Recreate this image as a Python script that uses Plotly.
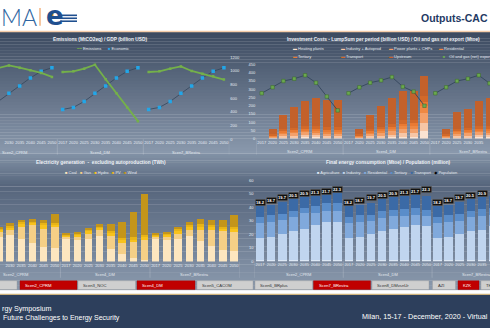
import plotly.graph_objects as go

W, H = 490, 330
FONT = "Liberation Sans, Arial, DejaVu Sans, sans-serif"
LIGHT = "#e6ecf3"

years = ["2017", "2020", "2025", "2030", "2035", "2040", "2045", "2050"]
scenarios = ["Scen2_CPRM", "Scen4_DM", "Scen7_BRestra"]

# ---- Emissions (MtCO2eq) / GDP (billion USD)
emis_cprm = [983, 993, 1040, 1079, 1046, 1007, 969, 911]
emis_dm = [983, 993, 1031, 1089, 878, 671, 465, 264]
emis_brestra = [983, 993, 1031, 1065, 998, 959, 921, 873]
gdp_cprm = [436, 465, 552, 671, 777, 897, 993, 1046]
gdp_dm = [436, 465, 552, 671, 777, 897, 993, 1046]
gdp_brestra = [436, 465, 552, 671, 777, 897, 993, 1046]

# ---- Investment costs (billion USD), 3 scenarios concatenated
inv_heating = [0, 2, 4, 6, 8, 8, 6, 6, 0, 2, 4, 6, 8, 10, 10, 45, 0, 2, 4, 6, 8, 8, 6, 6]
inv_industry = [0, 4, 10, 12, 14, 12, 10, 10, 0, 4, 10, 12, 16, 22, 22, 50, 0, 4, 10, 12, 14, 12, 10, 10]
inv_power = [0, 6, 12, 14, 16, 14, 14, 14, 0, 6, 12, 16, 20, 24, 24, 60, 0, 6, 14, 14, 16, 14, 14, 14]
inv_resid = [0, 4, 10, 10, 12, 12, 12, 12, 0, 4, 10, 12, 16, 20, 22, 40, 0, 4, 10, 10, 12, 12, 12, 12]
inv_tertiary = [0, 3, 8, 8, 10, 10, 10, 10, 0, 3, 8, 10, 12, 15, 15, 25, 0, 3, 8, 8, 10, 10, 10, 10]
inv_transport = [0, 6, 14, 16, 18, 20, 20, 20, 0, 6, 14, 16, 18, 20, 20, 40, 0, 6, 15, 16, 18, 20, 20, 20]
inv_upstream = [0, 35, 87, 125, 147, 169, 163, 163, 0, 35, 87, 125, 155, 180, 178, 122, 0, 35, 98, 115, 147, 173, 168, 168]
oil_gas_export = [275, 311, 349, 363, 384, 339, 255, 171, 275, 311, 339, 353, 373, 315, 285, 199,
                  275, 311, 349, 363, 384, 335, 260, 180]

# ---- Electricity generation (TWh)
el_coal = [83, 77, 89, 96, 84, 68, 53, 48, 83, 77, 84, 92, 44, 26, 14, 6, 83, 77, 84, 92, 74, 56, 42, 38]
el_gas = [6, 12, 18, 20, 44, 64, 66, 77, 6, 12, 18, 22, 50, 42, 56, 71, 6, 12, 18, 24, 42, 58, 68, 70]
el_hydro = [5, 8, 8, 9, 10, 9, 13, 10, 5, 8, 9, 9, 11, 11, 11, 12, 5, 8, 10, 11, 12, 12, 11, 11]
el_pv = [2, 4, 4, 5, 6, 5, 9, 6, 2, 4, 5, 5, 7, 7, 7, 7, 2, 4, 7, 7, 8, 8, 7, 7]
el_wind = [6, 7, 6, 10, 8, 8, 12, 34, 6, 7, 6, 10, 25, 60, 94, 150, 6, 7, 6, 10, 18, 18, 22, 44]

# ---- Final energy consumption (Mtoe) / Population (million)
fe_agri = [0.7, 0.7, 0.7, 0.8, 0.8, 0.8, 0.8, 0.8] * 3
fe_industry = [16.8, 17.5, 19.2, 22.0, 23.2, 25.9, 28.1, 28.3,
               16.8, 17.5, 19.2, 22.0, 23.2, 24.4, 25.9, 25.2,
               16.8, 17.5, 19.2, 22.0, 22.7, 25.2, 26.0, 26.5]
fe_resid = [10.9, 10.7, 10.4, 10.0, 11.7, 9.0, 8.0, 7.8,
            10.9, 10.7, 9.7, 9.2, 9.3, 8.5, 7.8, 7.7,
            10.9, 10.7, 10.2, 10.0, 9.8, 8.5, 8.0, 7.8]
fe_tertiary = [4.4, 5.6, 4.9, 4.1, 3.6, 5.3, 6.1, 6.5,
               4.4, 5.6, 4.9, 4.9, 4.8, 4.9, 4.8, 4.4,
               4.4, 5.6, 5.1, 4.1, 5.3, 5.0, 5.0, 5.2]
fe_transport = [8.2, 7.2, 9.0, 10.4, 9.0, 7.8, 7.2, 7.6,
                8.2, 7.2, 8.9, 9.7, 9.7, 9.9, 9.7, 9.9,
                8.2, 7.2, 9.0, 9.7, 9.2, 9.0, 9.2, 9.2]
population = [18.2, 18.7, 19.7, 20.5, 20.9, 21.3, 21.7, 22.3] * 3

button_labels = ["", "Scen2_CPRM", "Scen3_NOC", "Scen4_DM", "Scen5_CACOM", "Scen6_BRplus",
                 "Scen7_BRestra", "Scen8_DMvsnUr", "AZI", "KZK", "TK"]
button_active = [False, True, False, True, False, False, True, False, False, True, False]

# ---------------------------------------------------------------------------
K = list(range(24))
ticktext = years * 3


def px(x):
    return x / W


def py(y):
    return 1 - y / H


def broken(groups):
    xs, ys = [], []
    for g, vals in enumerate(groups):
        for i, v in enumerate(vals):
            xs.append(8 * g + i)
            ys.append(v)
        xs.append(None)
        ys.append(None)
    return xs, ys


fig = go.Figure()

# Top-left lines
ex, ey = broken([emis_cprm, emis_dm, emis_brestra])
gx, gy = broken([gdp_cprm, gdp_dm, gdp_brestra])
fig.add_trace(go.Scatter(x=gx, y=gy, mode="lines+markers", name="Economic",
                         line=dict(color="#34465c", width=0.8),
                         marker=dict(symbol="square", size=3.5, color="#22a6e8"),
                         xaxis="x", yaxis="y"))
fig.add_trace(go.Scatter(x=ex, y=ey, mode="lines+markers", name="Emissions",
                         line=dict(color="#74b04a", width=1.8),
                         marker=dict(symbol="square", size=2.5, color="#74b04a"),
                         xaxis="x", yaxis="y"))

# Top-right bars
inv_series = [("Heating plants", inv_heating, "#fbe3d2"),
              ("Industry + Autoprod", inv_industry, "#f7c6a6"),
              ("Power plants + CHPs", inv_power, "#f3a06a"),
              ("Residential", inv_resid, "#ee8843"),
              ("Tertiary", inv_tertiary, "#e97a33"),
              ("Transport", inv_transport, "#d2692a"),
              ("Upstream", inv_upstream, "#c3612b")]
for name, vals, col in inv_series:
    fig.add_trace(go.Bar(x=K, y=vals, name=name, marker=dict(color=col, line_width=0),
                         width=0.74, xaxis="x2", yaxis="y2"))
ox, oy = broken([oil_gas_export[0:8], oil_gas_export[8:16], oil_gas_export[16:24]])
fig.add_trace(go.Scatter(x=ox, y=oy, mode="lines+markers", name="Oil and gas (net) export",
                         line=dict(color="#34465c", width=0.9),
                         marker=dict(symbol="square", size=3.5, color="#6aa84f",
                                     line=dict(color="#3d6b2a", width=0.5)),
                         xaxis="x2", yaxis="y2"))

# Bottom-left bars
el_series = [("Coal", el_coal, "#fde6bf"), ("Gas", el_gas, "#f5cf86"),
             ("Hydro", el_hydro, "#f8c21c"), ("PV", el_pv, "#e8b416"),
             ("Wind", el_wind, "#c4951a")]
for name, vals, col in el_series:
    fig.add_trace(go.Bar(x=K, y=vals, name=name, marker=dict(color=col, line_width=0),
                         width=0.66, xaxis="x3", yaxis="y3"))

# Bottom-right bars
fe_series = [("Agriculture", fe_agri, "#dde8f5"), ("Industry", fe_industry, "#c0d5ef"),
             ("Residential", fe_resid, "#80a9dc"), ("Tertiary", fe_tertiary, "#5a8dca"),
             ("Transport", fe_transport, "#3b6aa6")]
for name, vals, col in fe_series:
    fig.add_trace(go.Bar(x=K, y=vals, name=name, marker=dict(color=col, line_width=0),
                         width=0.78, xaxis="x4", yaxis="y4"))
fig.add_trace(go.Scatter(x=K, y=population, mode="markers", name="Population",
                         marker=dict(symbol="square", size=3, color="black"),
                         xaxis="x4", yaxis="y5"))

# ---------------------------------------------------------------------------
shapes = []
annotations = []


def hex2rgb(h):
    h = h.lstrip("#")
    return tuple(int(h[i:i + 2], 16) for i in (0, 2, 4))


def grad(y0, y1, c0, c1, n=40, x0=0, x1=W):
    r0, r1 = hex2rgb(c0), hex2rgb(c1)
    for j in range(n):
        t = (j + 0.5) / n
        c = tuple(round(a + (b - a) * t) for a, b in zip(r0, r1))
        ya = y0 + (y1 - y0) * j / n
        yb = min(y1, y0 + (y1 - y0) * (j + 1) / n + 0.4)
        shapes.append(dict(type="rect", xref="paper", yref="paper", x0=px(x0), x1=px(x1),
                           y0=py(yb), y1=py(ya), fillcolor="rgb(%d,%d,%d)" % c,
                           line_width=0, layer="below"))


# panel backgrounds
grad(29.5, 153, "#3c4a60", "#8a99ad")
grad(153, 186, "#8292a6", "#56657c", n=15)
grad(186, 292, "#56657c", "#8a99ad")

# header
shapes.append(dict(type="rect", xref="paper", yref="paper", x0=0, x1=1, y0=py(29.6), y1=py(28.2),
                   fillcolor="#f6cdaa", line_width=0, layer="below"))
# footer
shapes.append(dict(type="rect", xref="paper", yref="paper", x0=0, x1=1, y0=py(295.4), y1=py(291.6),
                   fillcolor="#ffffff", line_width=0, layer="below"))
shapes.append(dict(type="rect", xref="paper", yref="paper", x0=0, x1=1, y0=py(296.8), y1=py(295.2),
                   fillcolor="#cdb27c", line_width=0, layer="below"))
shapes.append(dict(type="rect", xref="paper", yref="paper", x0=0, x1=1, y0=0, y1=py(296.6),
                   fillcolor="#2d3f5c", line_width=0, layer="below"))

# logo
annotations.append(dict(text="MA", x=px(-1.5), y=py(14.5), xref="paper", yref="paper", xanchor="left",
                        yanchor="middle", showarrow=False,
                        font=dict(family="Lato, DejaVu Sans", size=23, color="#2d64a0", weight=300)))
shapes.append(dict(type="line", xref="paper", yref="paper", x0=px(40), x1=px(40), y0=py(23), y1=py(5),
                   line=dict(color="#f0a060", width=1.2)))
annotations.append(dict(text="<b>e</b>", x=px(44), y=py(13.5), xref="paper", yref="paper",
                        xanchor="left", yanchor="middle", showarrow=False,
                        font=dict(family="DejaVu Sans", size=26, color="#1f4f8f")))
for yy in (12.5, 15.5, 18.5):
    shapes.append(dict(type="line", xref="paper", yref="paper", x0=px(60), x1=px(77), y0=py(yy), y1=py(yy),
                       line=dict(color="#1f4f8f", width=1.6)))
shapes.append(dict(type="rect", xref="paper", yref="paper", x0=px(50), x1=px(53.5), y0=py(15), y1=py(9.5),
                   fillcolor="#f08a3c", line_width=0))
annotations.append(dict(text="<b>Outputs-CAC</b>", x=px(489.5), y=py(15), xref="paper", yref="paper",
                        xanchor="right", yanchor="middle", showarrow=False,
                        font=dict(family="Liberation Sans, Arial", size=10.5, color="#1f3a64")))

# footer text
annotations.append(dict(text="rgy Symposium", x=px(0), y=py(310), xref="paper", yref="paper",
                        xanchor="left", yanchor="middle", showarrow=False,
                        font=dict(family="Liberation Sans, Arial", size=7.2, color="white")))
annotations.append(dict(text="Future Challenges to Energy Security", x=px(0.5), y=py(319.5), xref="paper",
                        yref="paper", xanchor="left", yanchor="middle", showarrow=False,
                        font=dict(family="Liberation Sans, Arial", size=7.0, color="white")))
annotations.append(dict(text="Milan, 15-17 - December, 2020 - Virtual", x=px(489.5), y=py(318.5), xref="paper",
                        yref="paper", xanchor="right", yanchor="middle", showarrow=False,
                        font=dict(family="Liberation Sans, Arial", size=7.2, color="white")))

# buttons
btn_geom = [(-41, 17), (20, 77), (78, 135.5), (137, 195), (197, 253), (255, 312.5), (313.5, 370.5),
            (372, 429), (432.5, 455.5), (458, 479), (481, 510)]
for (x0, x1), lab, act in zip(btn_geom, button_labels, button_active):
    shapes.append(dict(type="rect", xref="paper", yref="paper", x0=px(x0), x1=px(x1), y0=py(291), y1=py(282),
                       fillcolor="#c00000" if act else "#cfcfcf",
                       line=dict(color="#9a9a9a" if not act else "#a00000", width=0.4)))
    if lab:
        annotations.append(dict(text=lab, x=px(x0 + 3), y=py(286.5), xref="paper", yref="paper",
                                xanchor="left", yanchor="middle", showarrow=False,
                                font=dict(size=4.2, color="white" if act else "#333333")))


def title(text, x, y, anchor="center"):
    annotations.append(dict(text="<b>" + text + "</b>", x=px(x), y=py(y), xref="paper", yref="paper",
                            xanchor=anchor, yanchor="middle", showarrow=False,
                            font=dict(size=4.8, color="#eef2f7")))


def legend_text(html, x, y, anchor="left"):
    annotations.append(dict(text=html, x=px(x), y=py(y), xref="paper", yref="paper", xanchor=anchor,
                            yanchor="middle", showarrow=False, font=dict(size=4, color="#e3e9f0")))


def sw(color, glyph="■"):
    return "<span style='color:%s'>%s</span>" % (color, glyph)


title("Emissions (MtCO2eq) / GDP (billion USD)", 100, 37)
legend_text(sw("#74b04a", "━━") + " Emissions", 74, 46.3)
legend_text(sw("#22a6e8") + " Economic", 106, 46.3)

title("Investment Costs - LumpSum per period (billion USD) / Oil and gas net export (Mtoe)", 285, 37, "left")
leg_pos = [(291, 46.7), (339, 46.7), (387, 46.7), (437, 46.7), (291, 54.3), (339, 54.3), (387, 54.3)]
for (name, vals, col), (lx, ly) in zip(inv_series, leg_pos):
    legend_text(sw(col, "▬") + " " + name, lx, ly)
legend_text(sw("#34465c", "─") + sw("#6aa84f") + sw("#34465c", "─") + " Oil and gas (net) export", 437, 54.3)

title("Electricity generation  -  excluding autoproduction (TWh)", 100.5, 162.3)
legend_text("   ".join(sw(col) + " " + name for name, vals, col in el_series), 101, 171.7, "center")

title("Final energy consumption (Mtoe) / Population (million)", 388, 162.3)
legend_text("   ".join([sw(col) + " " + name for name, vals, col in fe_series] +
                       [sw("#000000", "◆") + " Population"]), 387, 171.7, "center")

# population labels
for k, p in zip(K, population):
    annotations.append(dict(text="<b>%.1f</b>" % p, x=k, y=p, xref="x4", yref="y5", showarrow=False,
                            bgcolor="#111111", bordercolor="#6d6d6d", borderwidth=0.5, borderpad=0.6,
                            font=dict(size=4, color="white")))

# group labels and dividers
axis_info = [("x", 151.3, 138.3, 154), ("x2", 150.8, 137.7, 154), ("x3", 275.2, 262.5, 279),
             ("x4", 275.2, 262.3, 279)]
for xr, gy_, ybot, yend in axis_info:
    for g, s in enumerate(scenarios):
        annotations.append(dict(text=s, x=8 * g + 3.5, y=py(gy_), xref=xr, yref="paper", showarrow=False,
                                yanchor="middle", font=dict(size=4, color="#e3e9f0")))
    for b in (-0.5, 7.5, 15.5, 23.5):
        shapes.append(dict(type="line", xref=xr, yref="paper", x0=b, x1=b, y0=py(yend), y1=py(ybot),
                           line=dict(color="rgba(255,255,255,0.35)", width=0.5)))

axis_common = dict(showgrid=False, zeroline=False, showline=False, ticks="",
                   tickfont=dict(size=4, color=LIGHT))
xcommon = dict(axis_common, tickmode="array", tickvals=K, ticktext=ticktext, tickangle=0)

fig.update_layout(
    width=W, height=H, margin=dict(l=0, r=0, t=0, b=0, pad=0), autosize=False,
    paper_bgcolor="white", plot_bgcolor="rgba(0,0,0,0)", showlegend=False, barmode="stack",
    font=dict(family=FONT, size=4, color=LIGHT),
    xaxis=dict(xcommon, domain=[0, px(229.3)], range=[2.17, 23.5], anchor="y"),
    yaxis=dict(axis_common, domain=[py(138.3), py(55)], range=[0, 1200], side="right", anchor="x",
               tickvals=list(range(0, 1201, 200))),
    xaxis2=dict(xcommon, domain=[px(256.3), 1], range=[-0.5, 21.04], anchor="y2"),
    yaxis2=dict(axis_common, domain=[py(137.7), py(62.3)], range=[0, 450], anchor="x2",
                tickvals=list(range(0, 451, 50))),
    xaxis3=dict(xcommon, domain=[0, px(239.6)], range=[2.107, 23.5], anchor="y3"),
    yaxis3=dict(axis_common, domain=[py(262.5), py(180)], range=[0, 297], anchor="x3", visible=False),
    xaxis4=dict(xcommon, domain=[px(254.5), 1], range=[-0.5, 20.72], anchor="y4"),
    yaxis4=dict(axis_common, domain=[py(262.3), py(180)], range=[0, 60], anchor="x4",
                tickvals=list(range(0, 61, 10))),
    yaxis5=dict(axis_common, overlaying="y4", range=[0, 25.1], anchor="x4", visible=False),
    shapes=shapes, annotations=annotations,
)

fig.write_html("out.html")
